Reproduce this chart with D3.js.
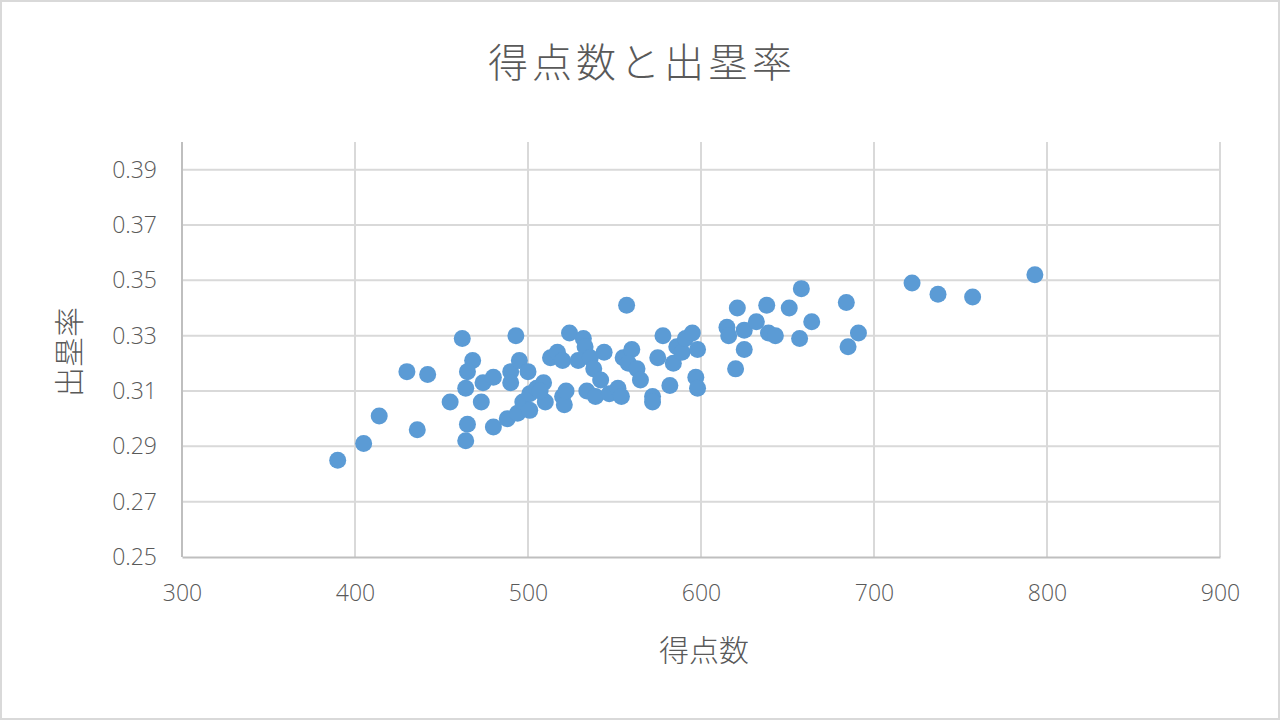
<!DOCTYPE html>
<html>
<head>
<meta charset="utf-8">
<script src="https://cdn.jsdelivr.net/npm/d3@7"></script>
<style>
  html, body { margin: 0; padding: 0; background: #fff; }
  svg { display: block; }
</style>
</head>
<body>
<svg id="chart" width="1280" height="720"></svg>
<script>
// 得点数 (runs) and 出塁率 (on-base %)
var runs = [390, 405, 414, 430, 442, 436, 455, 462, 468, 465, 464, 474, 480, 473, 465, 464, 480,
  493, 490, 490, 495, 500, 488, 494, 497, 501, 501, 505, 509, 510, 507, 513, 517, 520, 520, 521,
  522, 524, 532, 533, 529, 536, 538, 542, 544, 534, 539, 547, 552, 554, 555, 560, 558, 563, 565,
  557, 572, 572, 575, 582, 578, 584, 586, 589, 591, 595, 598, 597, 598, 615, 616, 621, 625, 625,
  620, 632, 638, 639, 643, 651, 658, 664, 657, 684, 691, 685, 722, 737, 757, 793];
var obp = [0.285, 0.291, 0.301, 0.317, 0.316, 0.296, 0.306, 0.329, 0.321, 0.317, 0.311, 0.313, 0.315, 0.306, 0.298, 0.292, 0.297,
  0.330, 0.317, 0.313, 0.321, 0.317, 0.300, 0.302, 0.306, 0.303, 0.309, 0.311, 0.313, 0.306, 0.310, 0.322, 0.324, 0.321, 0.308, 0.305,
  0.310, 0.331, 0.329, 0.326, 0.321, 0.322, 0.318, 0.314, 0.324, 0.310, 0.308, 0.309, 0.311, 0.308, 0.322, 0.325, 0.320, 0.318, 0.314,
  0.341, 0.308, 0.306, 0.322, 0.312, 0.330, 0.320, 0.326, 0.324, 0.329, 0.331, 0.325, 0.315, 0.311, 0.333, 0.330, 0.340, 0.332, 0.325,
  0.318, 0.335, 0.341, 0.331, 0.330, 0.340, 0.347, 0.335, 0.329, 0.342, 0.331, 0.326, 0.349, 0.345, 0.344, 0.352];

var xTicks = [300, 400, 500, 600, 700, 800, 900];
var yTicks = [0.25, 0.27, 0.29, 0.31, 0.33, 0.35, 0.37, 0.39];

var title = "得点数と出塁率";
var xTitle = "得点数";
var yTitle = "出塁率";

var svg = d3.select("#chart");
var textColor = "#595959";
var gridColor = "#d9d9d9";
var jp = "'Noto Sans CJK JP', 'Noto Sans', sans-serif";
var num = "'Open Sans', 'Noto Sans', sans-serif";

// outer frame
svg.append("rect")
  .attr("x", 1).attr("y", 1).attr("width", 1278).attr("height", 718)
  .attr("fill", "#fff").attr("stroke", "#d9d9d9").attr("stroke-width", 2);

var x = d3.scaleLinear().domain([300, 900]).range([182, 1220]);
var y = d3.scaleLinear().domain([0.25, 0.40]).range([557, 142]);

// vertical grid
svg.append("g")
  .selectAll("line")
  .data(xTicks.slice(1))
  .join("line")
    .attr("x1", function(d) { return x(d); })
    .attr("x2", function(d) { return x(d); })
    .attr("y1", y(0.40))
    .attr("y2", y(0.25))
    .attr("stroke", gridColor)
    .attr("stroke-width", 2);

// horizontal grid
svg.append("g")
  .selectAll("line")
  .data(yTicks.slice(1))
  .join("line")
    .attr("x1", x(300))
    .attr("x2", x(900))
    .attr("y1", function(d) { return y(d); })
    .attr("y2", function(d) { return y(d); })
    .attr("stroke", gridColor)
    .attr("stroke-width", 2);

// axes
var xAxis = d3.axisBottom(x).tickValues(xTicks).tickSize(0).tickPadding(28);
var gx = svg.append("g").attr("transform", "translate(0," + y(0.25) + ")").call(xAxis);
gx.select(".domain").attr("stroke", "#bfbfbf").attr("stroke-width", 2);
gx.selectAll("text").attr("fill", textColor).style("font-family", num)
  .style("font-size", "23px").style("font-weight", 300);

var yAxis = d3.axisLeft(y).tickValues(yTicks).tickSize(0).tickPadding(25)
  .tickFormat(d3.format(".2f"));
var gy = svg.append("g").attr("transform", "translate(" + x(300) + ",0)").call(yAxis);
gy.select(".domain").attr("stroke", "#bfbfbf").attr("stroke-width", 2)
  .attr("d", "M0," + y(0.40) + "V" + y(0.25));
gy.selectAll("text").attr("fill", textColor).style("font-family", num)
  .style("font-size", "23px").style("font-weight", 300);

// points
svg.append("g")
  .selectAll("circle")
  .data(runs.map(function(r, i) { return [r, obp[i]]; }))
  .join("circle")
    .attr("cx", function(d) { return x(d[0]); })
    .attr("cy", function(d) { return y(d[1]); })
    .attr("r", 8.5)
    .attr("fill", "#5b9bd5");

// titles
svg.append("text")
  .attr("x", 642).attr("y", 77)
  .attr("text-anchor", "middle")
  .attr("fill", textColor)
  .style("font-family", jp).style("font-size", "40px").style("font-weight", 300)
  .style("letter-spacing", "4px")
  .text(title);

svg.append("text")
  .attr("x", 704).attr("y", 661)
  .attr("text-anchor", "middle")
  .attr("fill", textColor)
  .style("font-family", jp).style("font-size", "30px").style("font-weight", 300)
  .text(xTitle);

svg.append("text")
  .attr("transform", "translate(80,352) rotate(-90)")
  .attr("text-anchor", "middle")
  .attr("fill", textColor)
  .style("font-family", jp).style("font-size", "30px").style("font-weight", 300)
  .text(yTitle);
</script>
</body>
</html>
